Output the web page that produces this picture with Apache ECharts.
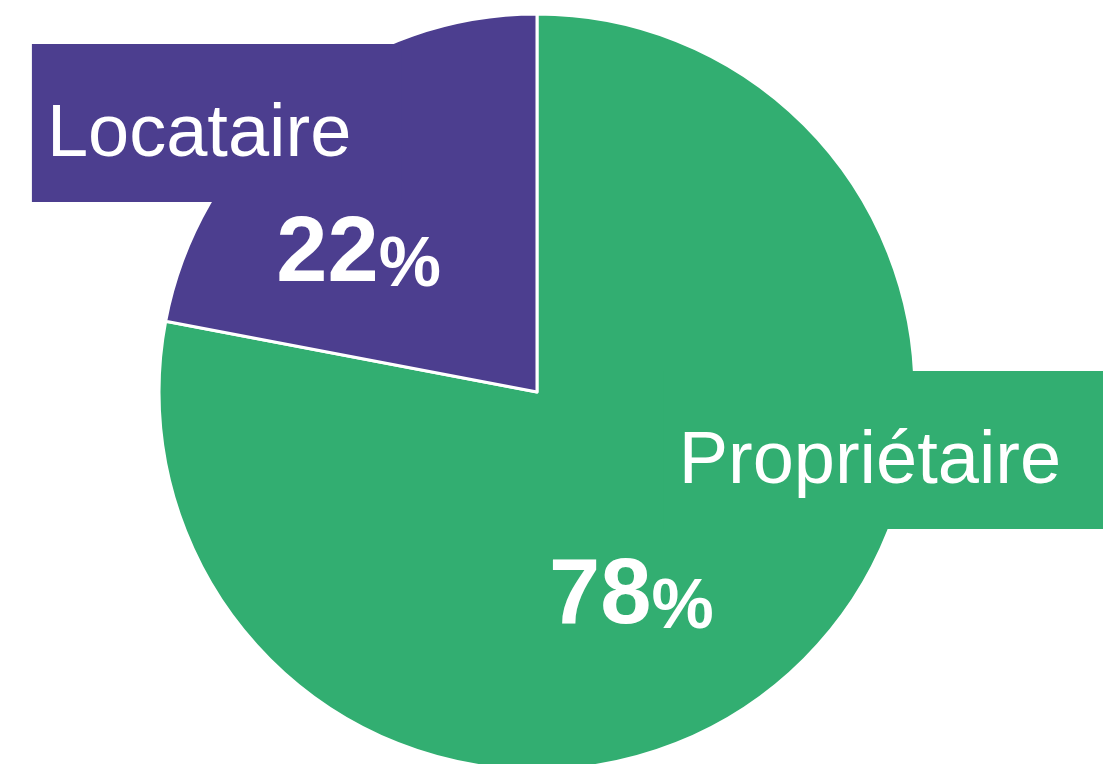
<!DOCTYPE html>
<html>
<head>
<meta charset="utf-8">
<title>Statut d'occupation</title>
<script src="https://cdn.jsdelivr.net/npm/echarts@6/dist/echarts.min.js"></script>
<style>
  html, body { margin: 0; padding: 0; background: #fff; }
  #main { width: 1103px; height: 764px; }
</style>
</head>
<body>
<div id="main"></div>
<script>
// données
var categories = ['Propriétaire', 'Locataire'];
var shares = [78, 22];

// style
var colors = ['#32ae71', '#4c3e8f'];
var font = '"Liberation Sans", Arial, sans-serif';
// décalage des étiquettes par rapport au point "inside" de chaque part
// noms : y = haut du cartouche ; pourcentages : y = milieu
var nameOffsets = [[238, -169], [-198, -200]];
var namePadding = [[55, 70, 29, 15], [55, 50, 29, 15]];
var valueOffsets = [[-28, 58], [-56, 12]];

function shift(offsets, vAlign) {
  return function (params) {
    var r = params.labelRect;
    var o = offsets[params.dataIndex];
    return {
      x: r.x + r.width / 2 + o[0],
      y: r.y + r.height / 2 + o[1],
      verticalAlign: vAlign
    };
  };
}

var chart = echarts.init(document.getElementById('main'));

var option = {
  animation: false,
  color: colors,
  series: [
    {
      // la tarte + les noms dans leur cartouche
      type: 'pie',
      center: [537, 392],
      radius: 378,
      startAngle: 90,
      silent: true,
      itemStyle: { borderColor: '#fff', borderWidth: 3 },
      label: {
        show: true,
        position: 'inside',
        formatter: '{b}',
        color: '#fff',
        fontFamily: font,
        fontSize: 74,
        lineHeight: 74
      },
      labelLayout: shift(nameOffsets, 'top'),
      data: categories.map(function (c, i) {
        return {
          name: c,
          value: shares[i],
          label: { backgroundColor: colors[i], padding: namePadding[i] }
        };
      })
    },
    {
      // pourcentages, par-dessus
      type: 'pie',
      center: [537, 392],
      radius: 378,
      startAngle: 90,
      silent: true,
      itemStyle: { color: 'transparent', borderWidth: 0 },
      label: {
        show: true,
        position: 'inside',
        formatter: function (p) { return '{v|' + p.value + '}{p|%}'; },
        rich: {
          v: { fontFamily: font, fontSize: 92, fontWeight: 'bold', color: '#fff', lineHeight: 92 },
          p: { fontFamily: font, fontSize: 70, fontWeight: 'bold', color: '#fff', lineHeight: 76, verticalAlign: 'bottom' }
        }
      },
      labelLayout: shift(valueOffsets, 'middle'),
      data: categories.map(function (c, i) {
        return { name: c, value: shares[i] };
      })
    }
  ]
};

chart.setOption(option);
window.onresize = chart.resize;
</script>
</body>
</html>
